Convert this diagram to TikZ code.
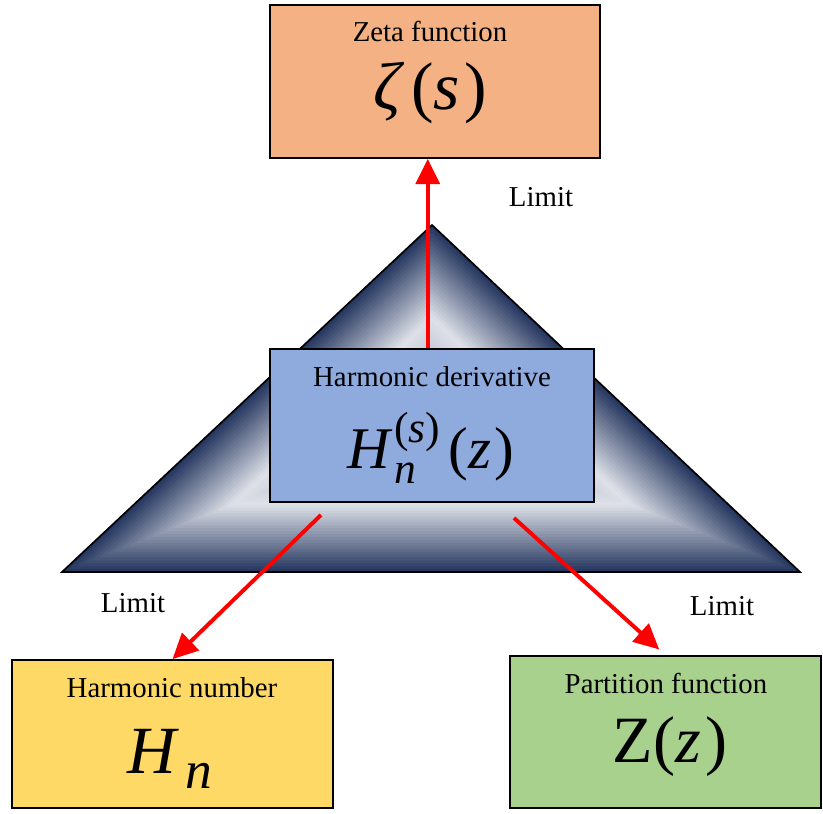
\documentclass[tikz,border=0pt]{standalone}
\usepackage{fontspec}
\setmainfont{Liberation Serif}
\usetikzlibrary{calc,arrows.meta}
\definecolor{zetafill}{HTML}{F4B183}
\definecolor{derivfill}{HTML}{8FAADC}
\definecolor{hnumfill}{HTML}{FFD966}
\definecolor{partfill}{HTML}{A9D18E}
\definecolor{tridark}{RGB}{38,55,96}
\definecolor{trilight}{RGB}{222,225,232}
\definecolor{trimid}{RGB}{150,155,175}
\newcommand{\fsz}[1]{\fontsize{#1}{#1}\selectfont}
\tikzset{
  box/.style={draw=black,line width=1.2pt,inner sep=0pt},
  title/.style={anchor=base,inner sep=0pt,font=\fsz{20.5}},
  formula/.style={anchor=base,inner sep=0pt},
  limit/.style={draw=red,line width=2.8pt,-{Triangle[length=18pt,width=17pt]}},
  lbl/.style={font=\fsz{20.5}}
}
\begin{document}
\begin{tikzpicture}[x=0.025cm,y=-0.025cm]
  \useasboundingbox (0,0) rectangle (823,814);
  \coordinate (A) at (432,225);
  \coordinate (B) at (62,572);
  \coordinate (C) at (800,572);
  \coordinate (I) at (432,426);
  % bevelled triangle
  \foreach \t in {1.00,0.98,...,0.02}{
    \ifdim\t pt>0.55pt
      \pgfmathsetmacro\p{(\t-0.55)/0.45*100}
      \colorlet{tri}{tridark!\p!trilight}
    \else
      \pgfmathsetmacro\p{\t/0.55*100}
      \colorlet{tri}{trilight!\p!trimid}
    \fi
    \fill[tri] ($(I)!\t!(A)$) -- ($(I)!\t!(B)$) -- ($(I)!\t!(C)$) -- cycle;
  }
  \draw[line width=1.2pt] (A) -- (B) -- (C) -- cycle;
  % boxes
  \node[box,fill=zetafill,minimum width=8.25cm,minimum height=3.825cm]
    (zeta) at (435,81.5) {};
  \node[box,fill=derivfill,minimum width=8.1cm,minimum height=3.825cm]
    (deriv) at (432,425.5) {};
  \node[box,fill=hnumfill,minimum width=8.025cm,minimum height=3.7cm]
    (hnum) at (172.5,734) {};
  \node[box,fill=partfill,minimum width=7.775cm,minimum height=3.8cm]
    (part) at (665.5,732) {};
  % texts
  \node[title] (zetat) at (430,42) {Zeta function};
  \node[formula] (zetam) at (430,110)
    {\fsz{48}\textit{ζ}\hspace{0.1em}(\textit{s}\hspace{0.06em})};
  \node[title] (derivt) at (432,386) {Harmonic derivative};
  \node[formula] (derivm) at (431,468) {\fsz{42}\textit{H}\hspace{1pt}%
    {\fsz{31}\rlap{\raisebox{-11pt}{\textit{n}}}\raisebox{18pt}{(\textit{s})}}%
    \hspace{6pt}(\textit{z}\hspace{0.06em})};
  \node[title] (hnumt) at (172,697) {Harmonic number};
  \node[formula] (hnumm) at (170,773)
    {\fsz{48}\textit{H}\hspace{4pt}\raisebox{-11pt}{\fsz{38}\textit{n}}};
  \node[title] (partt) at (666,693) {Partition function};
  \node[formula] (partm) at (670,762) {\fsz{47}Z(\textit{z}\hspace{0.06em})};
  \node[lbl] (l1) at (541,197) {Limit};
  \node[lbl] (l2) at (133,603) {Limit};
  \node[lbl] (l3) at (722,606) {Limit};
  % arrows
  \coordinate (s1) at (321,515);
  \coordinate (s2) at (514,518);
  \begin{scope}
    \draw[limit] ([xshift=-3pt]deriv.north) -- ([xshift=-3pt]deriv.north |- zeta.south);
    \draw[limit] (s1) -- (hnum.north);
    \draw[limit,shorten >=6pt] (s2) -- (part.north);
  \end{scope}
\end{tikzpicture}
\end{document}
